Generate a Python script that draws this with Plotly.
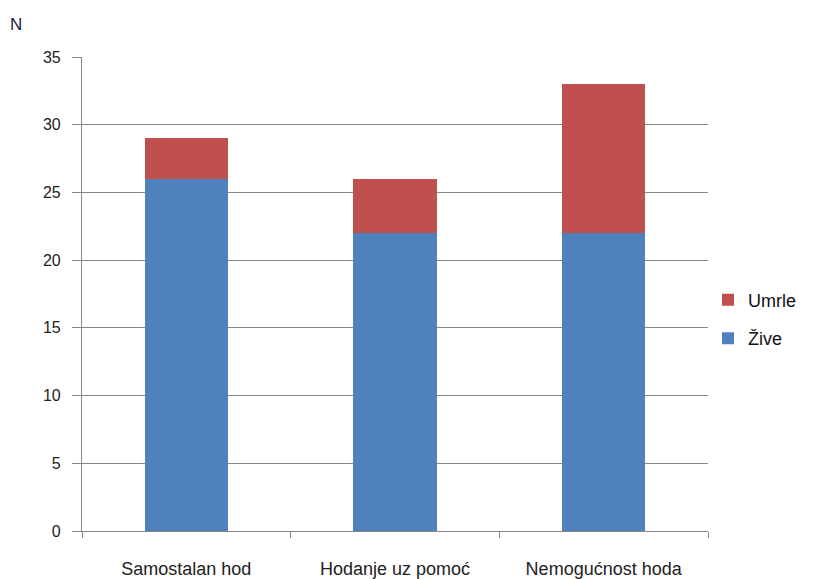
import plotly.graph_objects as go

categories = ["Samostalan hod", "Hodanje uz pomoć", "Nemogućnost hoda"]
zive = [26, 22, 22]
umrle = [3, 4, 11]
y_ticks = [0, 5, 10, 15, 20, 25, 30, 35]

BLUE = "#4F81BD"
RED = "#C0504D"
GRID = "#868686"
FONT = "Liberation Sans"

fig = go.Figure()
fig.add_trace(go.Bar(name="Žive", x=categories, y=zive, legendgroup="z", legendrank=2,
                     marker=dict(color=BLUE, line=dict(width=0))))
fig.add_trace(go.Bar(name="Umrle", x=categories, y=umrle, legendgroup="u", legendrank=1,
                     marker=dict(color=RED, line=dict(width=0))))

fig.update_layout(
    width=820, height=579,
    barmode="stack", bargap=0.6,
    plot_bgcolor="white", paper_bgcolor="white",
    margin=dict(l=82, r=112, t=57, b=48, autoexpand=False),
    font=dict(family=FONT, size=15, color="#222222"),
    legend=dict(
        traceorder="grouped", x=1.0, xanchor="left", y=0.447, yanchor="middle",
        font=dict(family=FONT, size=18, color="#111111"),
        itemwidth=30, tracegroupgap=12,
    ),
    showlegend=True,
    annotations=[dict(text="N", xref="paper", yref="paper", x=-0.106, y=1.045,
                      xanchor="center", yanchor="bottom", showarrow=False,
                      font=dict(family=FONT, size=17, color="#1a1a40"))],
)

fig.update_yaxes(
    range=[0, 35], tickvals=y_ticks, showgrid=True, gridcolor=GRID, gridwidth=1.2,
    showline=True, linecolor=GRID, linewidth=1.2, ticks="outside", ticklen=9,
    tickcolor=GRID, zeroline=False, tickfont=dict(size=16, color="#222222"),
    ticklabelstandoff=8, automargin=False,
)
fig.update_xaxes(
    showline=True, linecolor=GRID, linewidth=1.2, ticks="outside", ticklen=6,
    tickcolor=GRID, tickson="boundaries", showgrid=False,
    tickfont=dict(size=18, color="#222222"), ticklabelstandoff=21, automargin=False,
)

fig.write_html("out.html")
